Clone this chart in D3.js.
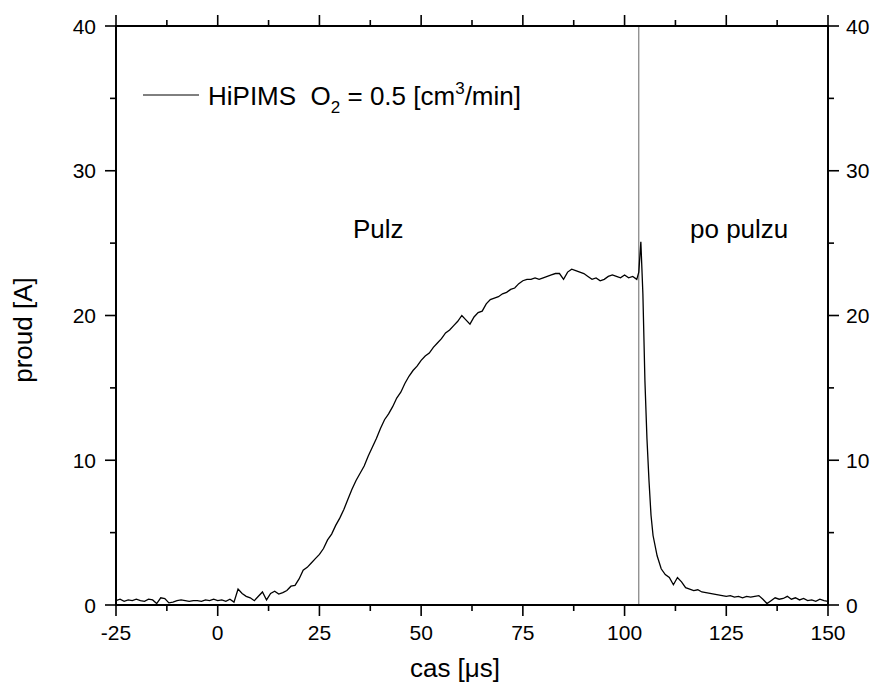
<!DOCTYPE html>
<meta charset="utf-8">
<style>
  html, body { margin: 0; padding: 0; background: #fff; overflow: hidden; }
  text { font-family: "Liberation Sans", Arial, sans-serif; fill: #000; }
  .tick-label { font-size: 21px; }
  .title { font-size: 26px; }
  .axis-line { stroke: #000; stroke-width: 2px; fill: none; }
  .tick { stroke: #000; stroke-width: 1.6px; }
  .trace { fill: none; stroke: #000; stroke-width: 1.3px; }
  .marker { stroke: #666; stroke-width: 1px; }
</style>
<body>
<svg width="873" height="691"></svg>
<script src="https://d3js.org/d3.v7.min.js"></script>
<script>

// cas [µs]
var timeUs = [
  -25,-24,-23,-22,-21,-20,-19,-18,-17,-16,-15,-14,-13,-12,-11,-10,-9,-8,-7,-6,
  -5,-4,-3,-2,-1,0,1,2,3,4,5,6,7,8,9,10,11,12,13,14,
  15,16,17,18,19,20,21,22,23,24,25,26,27,28,29,30,31,32,33,34,
  35,36,37,38,39,40,41,42,43,44,45,46,47,48,49,50,51,52,53,54,
  55,56,57,58,59,60,61,62,63,64,65,66,67,68,69,70,71,72,73,74,
  75,76,77,78,79,80,81,82,83,84,85,86,87,88,89,90,91,92,93,94,
  95,96,97,98,99,100,101,102,103,103.5,104,104.5,105,105.5,106,106.5,107,108,109,110,
  111,112,113,114,115,116,117,118,119,120,121,122,123,124,125,126,127,128,129,130,
  131,132,133,134,135,136,137,138,139,140,141,142,143,144,145,146,147,148,149,150
];

// proud [A]
var currentA = [
  0.3,0.4,0.25,0.35,0.3,0.4,0.3,0.25,0.4,0.35,0.1,0.5,0.45,0.15,0.2,0.3,0.35,0.3,0.25,0.3,
  0.3,0.25,0.35,0.3,0.4,0.3,0.35,0.25,0.4,0.2,1.1,0.8,0.6,0.5,0.3,0.6,0.9,0.35,0.8,0.95,
  0.75,0.85,1.0,1.3,1.35,1.8,2.4,2.6,2.9,3.2,3.5,3.9,4.5,4.9,5.5,6.0,6.6,7.3,8.0,8.6,
  9.1,9.6,10.3,10.9,11.5,12.2,12.8,13.2,13.7,14.3,14.7,15.3,15.8,16.2,16.5,16.9,17.2,17.4,17.8,18.1,
  18.4,18.8,19.0,19.3,19.6,20.0,19.7,19.4,19.9,20.2,20.3,20.8,21.1,21.2,21.3,21.5,21.6,21.8,21.9,22.2,
  22.4,22.5,22.5,22.6,22.5,22.6,22.7,22.8,22.9,22.9,22.5,23.0,23.2,23.1,23.0,22.9,22.7,22.5,22.6,22.4,
  22.5,22.7,22.8,22.7,22.6,22.8,22.6,22.7,22.5,23.0,25.1,21.5,15.5,11.5,8.6,6.2,4.8,3.4,2.5,2.1,
  1.9,1.4,1.9,1.6,1.2,1.1,1.0,1.05,0.9,0.85,0.8,0.75,0.7,0.65,0.6,0.65,0.55,0.6,0.5,0.6,
  0.55,0.6,0.65,0.4,0.1,0.3,0.5,0.4,0.45,0.6,0.4,0.5,0.35,0.45,0.3,0.35,0.25,0.4,0.3,0.25
];

var xTicks = [-25, 0, 25, 50, 75, 100, 125, 150];
var xMinor = [-12.5, 12.5, 37.5, 62.5, 87.5, 112.5, 137.5];
var yTicks = [0, 10, 20, 30, 40];
var yMinor = [5, 15, 25, 35];
var pulseEnd = 103.5;

var plotL = 116, plotR = 828, plotT = 26, plotB = 605;
var majorLen = 11, minorLen = 6;

var svg = d3.select("svg");

var x = d3.scaleLinear().domain([-25, 150]).range([plotL, plotR]);
var y = d3.scaleLinear().domain([0, 40]).range([plotB, plotT]);

var data = timeUs.map(function(t, i) { return {t: t, v: currentA[i]}; });

// vertical marker at end of pulse
svg.append("line")
  .attr("class", "marker")
  .attr("x1", x(pulseEnd)).attr("x2", x(pulseEnd))
  .attr("y1", y(40)).attr("y2", y(0));

var line = d3.line()
  .x(function(d) { return x(d.t); })
  .y(function(d) { return y(d.v); });

svg.append("path")
  .datum(data)
  .attr("class", "trace")
  .attr("d", line);

// frame
svg.append("rect")
  .attr("class", "axis-line")
  .attr("x", plotL).attr("y", plotT)
  .attr("width", plotR - plotL).attr("height", plotB - plotT);

// ticks on all four sides, pointing outward
var ticks = svg.append("g");
function addX(vals, len) {
  vals.forEach(function(v) {
    ticks.append("line").attr("class", "tick")
      .attr("x1", x(v)).attr("x2", x(v)).attr("y1", plotB).attr("y2", plotB + len);
    ticks.append("line").attr("class", "tick")
      .attr("x1", x(v)).attr("x2", x(v)).attr("y1", plotT).attr("y2", plotT - len);
  });
}
function addY(vals, len) {
  vals.forEach(function(v) {
    ticks.append("line").attr("class", "tick")
      .attr("x1", plotL).attr("x2", plotL - len).attr("y1", y(v)).attr("y2", y(v));
    ticks.append("line").attr("class", "tick")
      .attr("x1", plotR).attr("x2", plotR + len).attr("y1", y(v)).attr("y2", y(v));
  });
}
addX(xTicks, majorLen); addX(xMinor, minorLen);
addY(yTicks, majorLen); addY(yMinor, minorLen);

svg.append("g").selectAll("text").data(xTicks).enter().append("text")
  .attr("class", "tick-label")
  .attr("x", function(d) { return x(d); })
  .attr("y", plotB + 35)
  .attr("text-anchor", "middle")
  .text(function(d) { return d; });

svg.append("g").selectAll("text").data(yTicks).enter().append("text")
  .attr("class", "tick-label")
  .attr("x", plotL - 20)
  .attr("y", function(d) { return y(d) + 7.5; })
  .attr("text-anchor", "end")
  .text(function(d) { return d; });

svg.append("g").selectAll("text").data(yTicks).enter().append("text")
  .attr("class", "tick-label")
  .attr("x", plotR + 18)
  .attr("y", function(d) { return y(d) + 7.5; })
  .attr("text-anchor", "start")
  .text(function(d) { return d; });

// axis titles
svg.append("text")
  .attr("class", "title")
  .attr("text-anchor", "middle")
  .attr("transform", "translate(32,330) rotate(-90)")
  .text("proud [A]");

svg.append("text")
  .attr("class", "title")
  .attr("x", 455).attr("y", 677)
  .attr("text-anchor", "middle")
  .text("cas [\u03bcs]");

// annotations
svg.append("text").attr("class", "title")
  .attr("x", 353).attr("y", 238).text("Pulz");
svg.append("text").attr("class", "title")
  .attr("x", 690).attr("y", 238).text("po pulzu");

// legend
svg.append("line")
  .attr("x1", 143).attr("x2", 199).attr("y1", 95).attr("y2", 95)
  .attr("stroke", "#000").attr("stroke-width", 1);

var leg = svg.append("text").attr("class", "title").attr("x", 208).attr("y", 105);
leg.append("tspan").text("HiPIMS\u00a0\u00a0O");
leg.append("tspan").attr("dy", 8).style("font-size", "17px").text("2");
leg.append("tspan").attr("dy", -8).text(" = 0.5 [cm");
leg.append("tspan").attr("dy", -11).style("font-size", "17px").text("3");
leg.append("tspan").attr("dy", 11).text("/min]");

</script>
</body>
</html>
